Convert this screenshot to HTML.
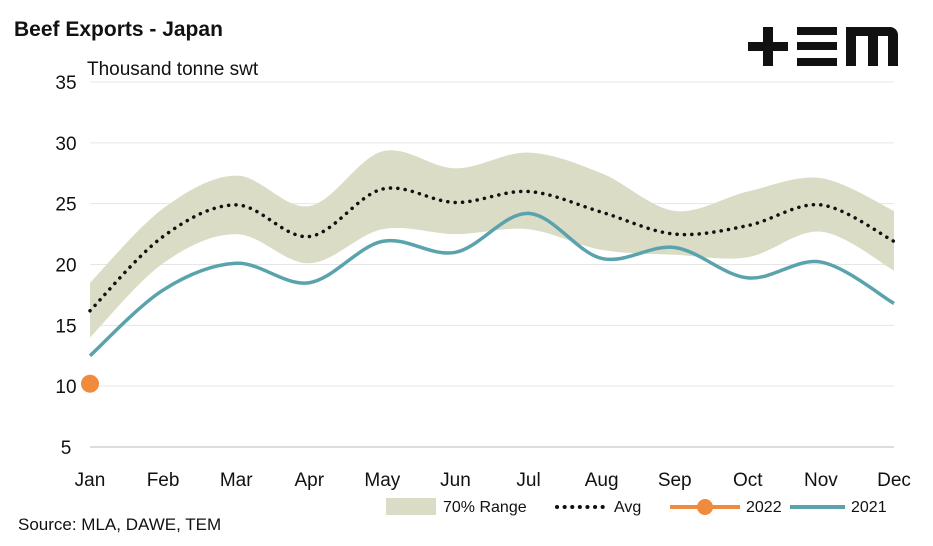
<!DOCTYPE html>
<html><head><meta charset="utf-8"><style>
body{margin:0;background:#fff;font-family:"Liberation Sans",sans-serif}
</style></head><body>
<svg width="933" height="541" xmlns="http://www.w3.org/2000/svg" font-family="Liberation Sans, sans-serif">
<text x="14" y="36" font-size="21" font-weight="bold" fill="#111">Beef Exports - Japan</text>
<text x="87" y="75" font-size="19" fill="#111">Thousand tonne swt</text>
<g fill="#111">
<rect x="748" y="42" width="40" height="9"/><rect x="763" y="27" width="10" height="39"/>
<rect x="797" y="27" width="40" height="8"/><rect x="797" y="42" width="40" height="8"/><rect x="797" y="58" width="40" height="8"/>
<path d="M846 66V27h44a8 8 0 0 1 8 8v31h-10V36h-10v30h-10V36h-12v30z"/>
</g>
<g id="grid"></g><g id="plot"></g><g id="axes"></g>
<g font-size="16" fill="#111">
<rect x="386" y="498" width="50" height="17" fill="#dadcc6"/>
<text x="443" y="512">70% Range</text>
<line x1="557" y1="507" x2="603" y2="507" stroke="#111" stroke-width="4" stroke-dasharray="0.1 7.5" stroke-linecap="round"/>
<text x="614" y="512">Avg</text>
<line x1="670" y1="507" x2="740" y2="507" stroke="#f08a3c" stroke-width="4"/>
<circle cx="705" cy="507" r="8" fill="#f08a3c"/>
<text x="746" y="512">2022</text>
<line x1="790" y1="507" x2="845" y2="507" stroke="#5aa3ad" stroke-width="4"/>
<text x="851" y="512">2021</text>
</g>
<text x="18" y="530" font-size="17" fill="#111">Source: MLA, DAWE, TEM</text>
</svg>
<script>
const months=["Jan","Feb","Mar","Apr","May","Jun","Jul","Aug","Sep","Oct","Nov","Dec"];
const yTicks=[5,10,15,20,25,30,35];
const rangeUpper=[18.5,24.6,27.3,24.8,29.3,27.9,29.2,27.5,24.4,26.0,27.1,24.4];
const rangeLower=[14.0,20.1,22.5,20.1,22.9,22.5,22.9,21.2,20.8,20.6,22.7,19.5];
const avg=[16.2,22.3,24.9,22.3,26.2,25.1,26.0,24.3,22.5,23.2,24.9,21.9];
const s2021=[12.5,17.9,20.1,18.5,21.9,21.0,24.2,20.5,21.4,18.9,20.2,16.8];
const s2022=[10.2];
const NS="http://www.w3.org/2000/svg";
const x=i=>90+i*(894-90)/11;
const y=v=>447-(v-5)*(447-82)/30;
function el(t,a,p){const e=document.createElementNS(NS,t);for(const k in a)e.setAttribute(k,a[k]);document.getElementById(p).appendChild(e);return e;}
function curve(pts,move){let d=move?`M${pts[0][0]},${pts[0][1]}`:`L${pts[0][0]},${pts[0][1]}`;
for(let i=0;i<pts.length-1;i++){const p0=pts[i-1]||pts[i],p1=pts[i],p2=pts[i+1],p3=pts[i+2]||p2;
d+=`C${p1[0]+(p2[0]-p0[0])/6},${p1[1]+(p2[1]-p0[1])/6} ${p2[0]-(p3[0]-p1[0])/6},${p2[1]-(p3[1]-p1[1])/6} ${p2[0]},${p2[1]}`;}return d;}
yTicks.forEach(t=>{
const g=el("line",{x1:90,x2:894,y1:y(t),y2:y(t),stroke:t===5?"#bbb":"#e6e6e6","stroke-width":1},"grid");


const l=el("text",{x:66,y:y(t)+7,"font-size":19,fill:"#111","text-anchor":"middle"},"axes");l.textContent=t;


});
months.forEach((m,i)=>{const l=el("text",{x:x(i),y:486,"font-size":19,fill:"#111","text-anchor":"middle"},"axes");l.textContent=m;

});
const up=rangeUpper.map((v,i)=>[x(i),y(v)]);
const lo=rangeLower.map((v,i)=>[x(i),y(v)]).reverse();
const band=el("path",{d:curve(up,true)+curve(lo,false)+"Z",fill:"#dadcc6"},"plot");


const a=el("path",{d:curve(avg.map((v,i)=>[x(i),y(v)]),true),fill:"none",stroke:"#111","stroke-width":3.5,"stroke-dasharray":"0.1 7.3","stroke-linecap":"round"},"plot");


const l21=el("path",{d:curve(s2021.map((v,i)=>[x(i),y(v)]),true),fill:"none",stroke:"#5aa3ad","stroke-width":3.5},"plot");


s2022.forEach((v,i)=>{const c=el("circle",{cx:x(i),cy:y(v),r:9,fill:"#f08a3c"},"plot");

});
</script>
</body></html>
